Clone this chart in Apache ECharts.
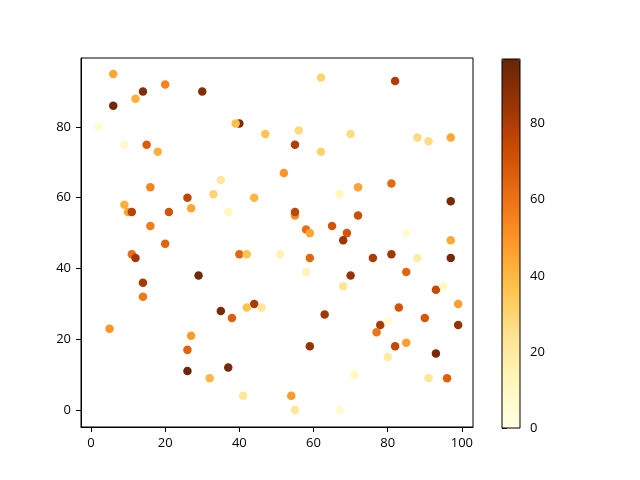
<!DOCTYPE html>
<html>
<head>
<meta charset="utf-8">
<script src="https://cdn.jsdelivr.net/npm/echarts@6/dist/echarts.min.js"></script>
<style>
  html, body { margin: 0; padding: 0; background: #fff; }
  #main { width: 640px; height: 480px; }
</style>
</head>
<body>
<div id="main"></div>
<script>
// scatter points: x, y and colour value
var xs = [6, 14, 20, 30, 12, 6, 2, 40, 39, 47, 9, 15, 18, 52, 35, 16, 33, 44, 26, 10,
  11, 9, 21, 27, 37, 16, 20, 62, 82, 56, 70, 88, 91, 97, 55, 62, 81, 72, 67, 97,
  55, 55, 72, 58, 59, 65, 69, 68, 85, 97, 11, 12, 40, 42, 51, 29, 14, 14, 44, 42,
  46, 35, 38, 5, 27, 26, 26, 37, 32, 41, 59, 76, 81, 88, 97, 58, 70, 85, 68, 93,
  95, 99, 83, 63, 90, 99, 78, 80, 77, 59, 82, 85, 80, 93, 71, 91, 96, 54, 55, 67];
var ys = [95, 90, 92, 90, 88, 86, 80, 81, 81, 78, 75, 75, 73, 67, 65, 63, 61, 60, 60, 56,
  56, 58, 56, 57, 56, 52, 47, 94, 93, 79, 78, 77, 76, 77, 75, 73, 64, 63, 61, 59,
  55, 56, 55, 51, 50, 52, 50, 48, 50, 48, 44, 43, 44, 44, 44, 38, 36, 32, 30, 29,
  29, 28, 26, 23, 21, 17, 11, 12, 9, 4, 43, 43, 44, 43, 43, 39, 38, 39, 35, 34,
  35, 30, 29, 27, 26, 24, 24, 25, 22, 18, 18, 19, 15, 16, 10, 9, 9, 4, 0, 0];
var cs = [45, 90, 55, 90, 42, 94, 6, 92, 38, 36, 8, 67, 42, 50, 22, 55, 30, 40, 76, 46,
  78, 42, 70, 45, 12, 57, 65, 30, 80, 28, 27, 28, 27, 45, 80, 31, 63, 46, 12, 93,
  52, 76, 72, 62, 45, 70, 70, 84, 6, 44, 62, 83, 64, 36, 15, 94, 82, 58, 81, 37,
  22, 93, 66, 50, 48, 65, 95, 93, 40, 22, 64, 81, 83, 18, 93, 14, 85, 64, 23, 74,
  11, 47, 70, 83, 69, 85, 81, 5, 59, 85, 75, 47, 20, 93, 11, 22, 66, 48, 22, 6];

var xTicks = [0, 20, 40, 60, 80, 100];
var yTicks = [0, 20, 40, 60, 80];

// YlOrBr
var cmap = ['#ffffe5', '#fff7bc', '#fee391', '#fec44f', '#fe9929',
  '#ec7014', '#cc4c02', '#993404', '#662506'];

var points = [];
for (var i = 0; i < xs.length; i++) {
  points.push([xs[i], ys[i], cs[i]]);
}

var chart = echarts.init(document.getElementById('main'));
var font = 'Open Sans';

var option = {
  backgroundColor: '#fff',
  animation: false,
  textStyle: { fontFamily: font },
  grid: [{
    left: 81, top: 58, right: 167, bottom: 53,
    show: true, borderColor: '#000', borderWidth: 1
  }, {
    left: 502, top: 59, width: 18, height: 369,
    show: true, borderColor: '#000', borderWidth: 1,
    backgroundColor: 'transparent', z: 10
  }],
  xAxis: [{
    type: 'value', min: -2.7, max: 103,
    splitLine: { show: false },
    axisLine: { show: true, onZero: false, lineStyle: { color: '#000' } },
    axisTick: { length: 5, customValues: xTicks, lineStyle: { color: '#000' } },
    axisLabel: { customValues: xTicks, margin: 10, color: '#000', fontSize: 13, fontFamily: font }
  }, {
    gridIndex: 1, type: 'value', min: 0, max: 1, show: false
  }],
  yAxis: [{
    type: 'value', min: -4.8, max: 99.5,
    splitLine: { show: false },
    axisLine: { show: true, onZero: false, lineStyle: { color: '#000' } },
    axisTick: { length: 5, customValues: yTicks, lineStyle: { color: '#000' } },
    axisLabel: { customValues: yTicks, margin: 10, color: '#000', fontSize: 13, fontFamily: font }
  }, {
    gridIndex: 1, type: 'value', min: 0, max: 97, interval: 20,
    position: 'right',
    splitLine: { show: false },
    axisLine: { show: false },
    axisTick: { show: true, length: 5, lineStyle: { color: '#000' } },
    axisLabel: { margin: 10, color: '#000', fontSize: 13, fontFamily: font, showMaxLabel: false }
  }],
  visualMap: {
    type: 'continuous',
    min: 0, max: 97,
    dimension: 2,
    seriesIndex: 0,
    calculable: false,
    orient: 'vertical',
    left: 502, top: 59,
    itemWidth: 18, itemHeight: 369,
    padding: 0,
    text: ['', ''],
    inRange: { color: cmap }
  },
  series: [{
    type: 'scatter',
    symbol: 'circle',
    symbolSize: 8.5,
    itemStyle: { opacity: 1 },
    data: points
  }]
};

chart.setOption(option);
</script>
</body>
</html>
